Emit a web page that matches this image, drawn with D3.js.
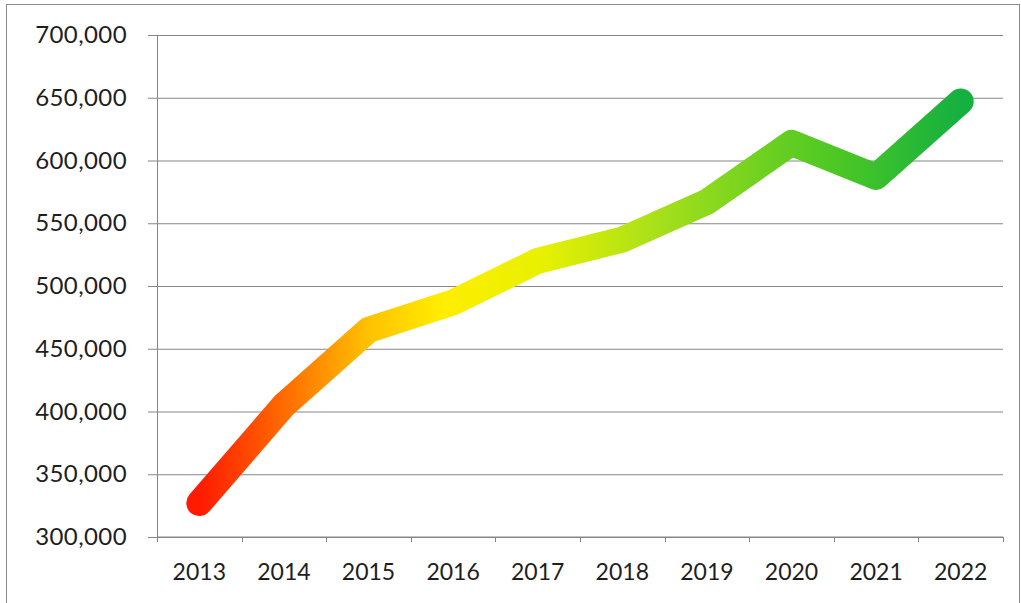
<!DOCTYPE html>
<html>
<head>
<meta charset="utf-8">
<script src="https://cdn.jsdelivr.net/npm/d3@7"></script>
<style>
  body { margin: 0; background: #fff; }
  svg text { font-family: Lato, "Open Sans", sans-serif; fill: #1e1e1e; }
</style>
</head>
<body>
<svg id="chart"></svg>
<script>
// values
const years = ["2013", "2014", "2015", "2016", "2017", "2018", "2019", "2020", "2021", "2022"];
const values = [327000, 405000, 465000, 487000, 520000, 537000, 567000, 614000, 587000, 647000];
const yTicks = [300000, 350000, 400000, 450000, 500000, 550000, 600000, 650000, 700000];

// colours of the line gradient, left to right
const gradStops = [
  [0, "#ff1a00"], [0.11, "#ff6a00"], [0.22, "#ffc000"], [0.32, "#ffee00"],
  [0.45, "#e8f000"], [0.6, "#a8e01a"], [0.75, "#6ad020"], [0.85, "#48c626"], [1, "#14b040"]
];

const width = 1021, height = 603;
const margin = {left: 157, right: 18, top: 35, bottom: 66};

let svg = d3.select("#chart")
    .attr("width", width)
    .attr("height", height);

// outer frame
svg.append("rect")
    .attr("x", 6.5).attr("y", 4.5)
    .attr("width", 1013).attr("height", 610)
    .attr("fill", "none")
    .attr("stroke", "#8a8a8a");

let x = d3.scaleBand()
    .domain(years)
    .range([margin.left, width - margin.right]);

let y = d3.scaleLinear()
    .domain([300000, 700000])
    .range([height - margin.bottom, margin.top]);

// horizontal gridlines with little outward ticks
svg.append("g")
    .attr("transform", `translate(${margin.left},0)`)
    .call(d3.axisLeft(y)
      .tickValues(yTicks)
      .tickSize(-(width - margin.left - margin.right))
      .tickSizeOuter(0)
      .tickPadding(30)
      .tickFormat(d3.format(",")))
    .call(g => g.select(".domain").remove())
    .call(g => g.selectAll(".tick line")
      .attr("x1", -9)
      .attr("stroke", "#868686"))
    .call(g => g.selectAll(".tick text")
      .attr("font-size", 24)
      .attr("letter-spacing", 0.4));

// vertical axis line
svg.append("line")
    .attr("x1", margin.left + 0.5).attr("x2", margin.left + 0.5)
    .attr("y1", y(700000)).attr("y2", y(300000))
    .attr("stroke", "#868686");

// x axis with ticks at band edges
let xAxis = svg.append("g")
    .attr("transform", `translate(0,${y(300000)})`);

xAxis.append("line")
    .attr("x1", margin.left).attr("x2", width - margin.right)
    .attr("stroke", "#868686");

let edges = years.map(d => x(d)).concat([x(years[years.length - 1]) + x.bandwidth()]);
xAxis.selectAll(".edge")
  .data(edges)
  .enter().append("line")
    .attr("x1", d => Math.round(d) + 0.5).attr("x2", d => Math.round(d) + 0.5)
    .attr("y1", 0).attr("y2", 5)
    .attr("stroke", "#868686");

xAxis.selectAll(".lbl")
  .data(years)
  .enter().append("text")
    .attr("x", d => x(d) + x.bandwidth() / 2)
    .attr("y", 43)
    .attr("text-anchor", "middle")
    .attr("font-size", 23)
    .text(d => d);

// gradient along the line
let pts = years.map((d, i) => [x(d) + x.bandwidth() / 2, y(values[i])]);

let grad = svg.append("defs").append("linearGradient")
    .attr("id", "lineGrad")
    .attr("gradientUnits", "userSpaceOnUse")
    .attr("x1", pts[0][0]).attr("x2", pts[pts.length - 1][0])
    .attr("y1", 0).attr("y2", 0);

grad.selectAll("stop")
  .data(gradStops)
  .enter().append("stop")
    .attr("offset", d => d[0])
    .attr("stop-color", d => d[1]);

svg.append("path")
    .datum(pts)
    .attr("d", d3.line())
    .attr("fill", "none")
    .attr("stroke", "url(#lineGrad)")
    .attr("stroke-width", 26)
    .attr("stroke-linecap", "round")
    .attr("stroke-linejoin", "round");
</script>
</body>
</html>
